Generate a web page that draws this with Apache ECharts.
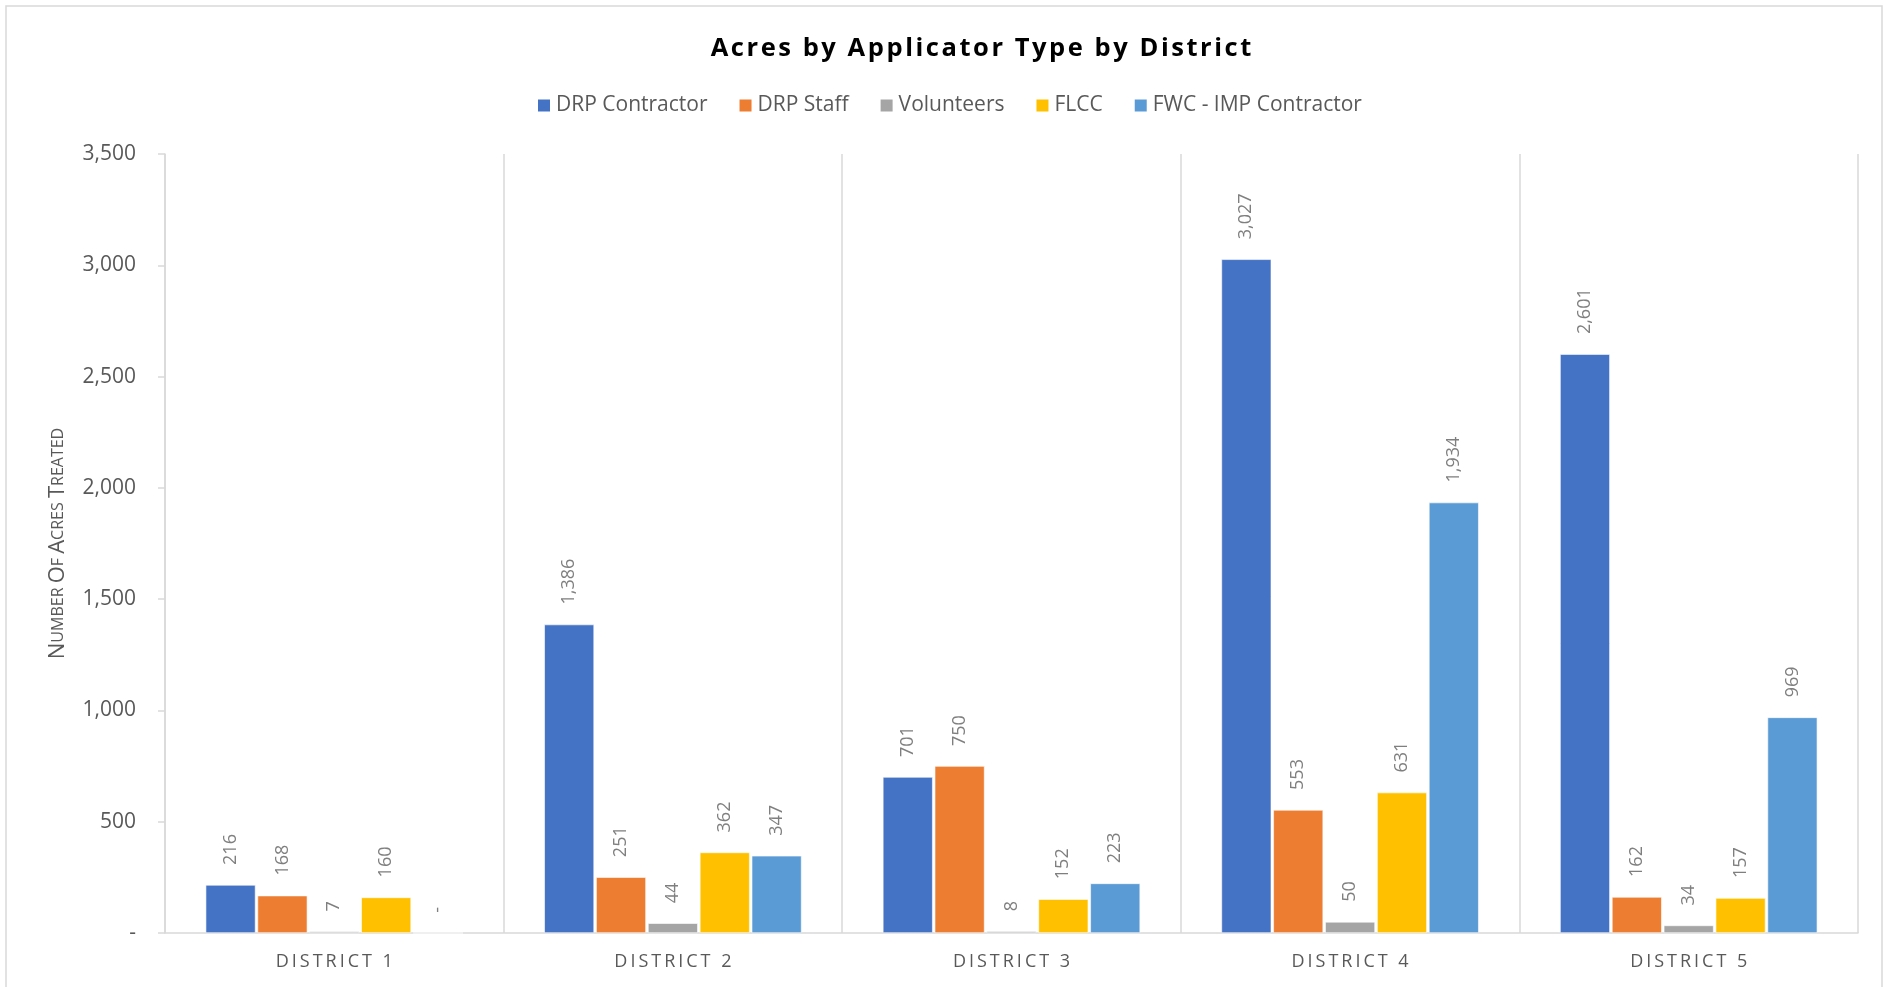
<!DOCTYPE html>
<html>
<head>
<meta charset="utf-8">
<script src="https://cdn.jsdelivr.net/npm/echarts@6/dist/echarts.min.js"></script>
<style>
  html, body { margin: 0; padding: 0; background: #fff; }
  #chart { width: 1891px; height: 987px; }
</style>
</head>
<body>
<div id="chart"></div>
<script>
var districts = ['District 1', 'District 2', 'District 3', 'District 4', 'District 5'];
var seriesNames = ['DRP Contractor', 'DRP Staff', 'Volunteers', 'FLCC', 'FWC - IMP Contractor'];
var drpContractor = [216, 1386, 701, 3027, 2601];
var drpStaff = [168, 251, 750, 553, 162];
var volunteers = [7, 44, 8, 50, 34];
var flcc = [160, 362, 152, 631, 157];
var fwcImp = [0, 347, 223, 1934, 969];
var yTicks = [0, 500, 1000, 1500, 2000, 2500, 3000, 3500];
var colors = ['#4472C4', '#ED7D31', '#A5A5A5', '#FFC000', '#5B9BD5'];

var chart = echarts.init(document.getElementById('chart'));

// excel accounting style: zero shows as a dash
function acct (v) {
  return v === 0 ? '-' : v.toLocaleString('en-US');
}

// fake small caps for the axis title
function smallCaps (s) {
  return s.split(' ').map(function (w) {
    return '{b|' + w.charAt(0).toUpperCase() + '}{s|' + w.slice(1).toUpperCase() + '}';
  }).join('{s| }');
}

var allData = [drpContractor, drpStaff, volunteers, flcc, fwcImp];
var series = seriesNames.map(function (name, i) {
  return {
    name: name,
    type: 'bar',
    data: allData[i],
    barGap: '4%',
    barCategoryGap: '24%',
    itemStyle: { color: colors[i], borderColor: '#fff', borderWidth: 0.6 },
    label: {
      show: true,
      position: 'top',
      rotate: 90,
      align: 'left',
      verticalAlign: 'middle',
      distance: 20,
      fontFamily: 'Open Sans',
      fontSize: 18,
      color: '#7f7f7f',
      formatter: function (p) { return acct(p.value); }
    }
  };
});

var option = {
  backgroundColor: '#fff',
  color: colors,
  animation: false,
  title: {
    text: 'Acres by Applicator Type by District'.split('').join('\u200A'),
    left: 976,
    top: 31,
    textAlign: 'center',
    textStyle: { fontFamily: 'Open Sans', fontWeight: 'bold', fontSize: 25.5, color: '#000' }
  },
  legend: {
    left: 531,
    top: 90,
    icon: 'rect',
    itemWidth: 14,
    itemHeight: 14,
    itemGap: 30,
    textStyle: { fontFamily: 'Open Sans', fontSize: 21, color: '#595959' },
    data: seriesNames
  },
  grid: { left: 165, right: 33, top: 154, bottom: 54, containLabel: false },
  xAxis: {
    type: 'category',
    data: districts,
    axisLine: { lineStyle: { color: '#d9d9d9', width: 1.5 } },
    axisTick: { show: false },
    splitLine: { show: true, interval: 0, lineStyle: { color: '#d9d9d9', width: 1.5 } },
    axisLabel: {
      margin: 20,
      fontFamily: 'Open Sans',
      fontSize: 18,
      color: '#595959',
      formatter: function (v) { return v.toUpperCase().split('').join('\u2009'); }
    }
  },
  yAxis: {
    type: 'value',
    min: yTicks[0],
    max: yTicks[yTicks.length - 1],
    interval: 500,
    name: smallCaps('Number of Acres Treated'),
    nameLocation: 'middle',
    nameGap: 96,
    nameTextStyle: {
      color: '#595959',
      rich: {
        b: { fontFamily: 'Open Sans', fontSize: 22, color: '#595959' },
        s: { fontFamily: 'Open Sans', fontSize: 16, color: '#595959' }
      }
    },
    axisLine: { show: true, lineStyle: { color: '#d9d9d9', width: 1.5 } },
    axisTick: { show: true, length: 7, lineStyle: { color: '#d9d9d9', width: 1.5 } },
    splitLine: { show: false },
    axisLabel: {
      margin: 29,
      fontFamily: 'Open Sans',
      fontSize: 21,
      color: '#595959',
      formatter: function (v) { return acct(v); }
    }
  },
  graphic: [{
    type: 'rect',
    shape: { x: 6, y: 6, width: 1876, height: 1000 },
    style: { fill: null, stroke: '#d9d9d9', lineWidth: 1.5 },
    silent: true
  }],
  series: series
};

chart.setOption(option);
</script>
</body>
</html>
